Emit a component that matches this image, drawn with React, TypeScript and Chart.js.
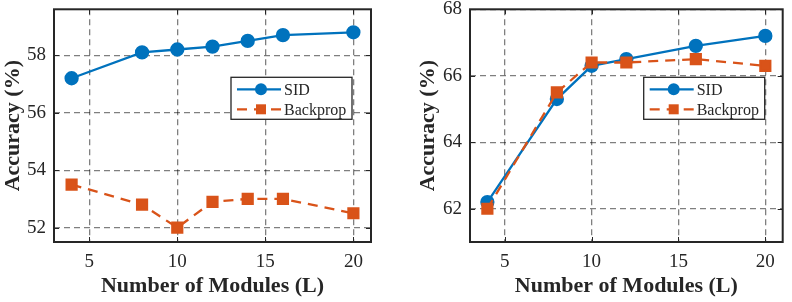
import React, { useEffect, useRef } from "react";
import { Chart, registerables } from "chart.js";

Chart.register(...registerables);

const FONT = '"Liberation Serif", "Times New Roman", serif';
const BLUE = "#0072BD";
const ORANGE = "#D95319";

const xTickValues = [5, 10, 15, 20];

const leftModules = [4, 8, 10, 12, 14, 16, 20];
const leftSID = [57.2, 58.1, 58.2, 58.3, 58.5, 58.7, 58.8];
const leftBackprop = [53.5, 52.8, 52.0, 52.9, 53.0, 53.0, 52.5];
const leftYTicks = [52, 54, 56, 58];

const rightModules = [4, 8, 10, 12, 16, 20];
const rightSID = [62.2, 65.3, 66.3, 66.5, 66.9, 67.2];
const rightBackprop = [62.0, 65.5, 66.4, 66.4, 66.5, 66.3];
const rightYTicks = [62, 64, 66, 68];

const seriesNames = ["SID", "Backprop"];
const xTitle = "Number of Modules (L)";
const yTitle = "Accuracy (%)";

type Cfg = {
  modules: number[];
  sid: number[];
  bp: number[];
  yTicks: number[];
  yMin: number;
  yMax: number;
  yWidth: number;
  rightPad: number;
  titlePad: number;
  legendRight: number;
};

const framePlugin = {
  id: "frameLegend",
  afterDraw(chart: any, _args: any, opts: any) {
    const ctx = chart.ctx;
    const a = chart.chartArea;
    ctx.save();
    ctx.strokeStyle = "#262626";
    ctx.lineWidth = 1;
    ctx.setLineDash([]);
    const xs = chart.scales.x;
    const ys = chart.scales.y;
    xs.ticks.forEach((t: any) => {
      const px = Math.round(xs.getPixelForValue(t.value)) + 0.5;
      ctx.beginPath();
      ctx.moveTo(px, a.bottom);
      ctx.lineTo(px, a.bottom - 5);
      ctx.moveTo(px, a.top);
      ctx.lineTo(px, a.top + 5);
      ctx.stroke();
    });
    ys.ticks.forEach((t: any) => {
      const py = Math.round(ys.getPixelForValue(t.value)) + 0.5;
      ctx.beginPath();
      ctx.moveTo(a.left, py);
      ctx.lineTo(a.left + 5, py);
      ctx.moveTo(a.right, py);
      ctx.lineTo(a.right - 5, py);
      ctx.stroke();
    });
    ctx.strokeStyle = "#262626";
    ctx.lineWidth = 2;
    ctx.strokeRect(a.left, a.top, a.right - a.left, a.bottom - a.top);

    const bw = 121;
    const bh = 42;
    const bx = a.right - opts.right - bw;
    const by = a.top + 68;
    ctx.fillStyle = "#ffffff";
    ctx.fillRect(bx, by, bw, bh);
    ctx.strokeStyle = "#262626";
    ctx.lineWidth = 1.3;
    ctx.strokeRect(bx, by, bw, bh);
    chart.data.datasets.forEach((ds: any, i: number) => {
      const yy = by + 12 + i * 20;
      ctx.strokeStyle = ds.borderColor;
      ctx.lineWidth = ds.borderWidth;
      ctx.setLineDash(ds.borderDash || []);
      ctx.beginPath();
      ctx.moveTo(bx + 6, yy);
      ctx.lineTo(bx + 50, yy);
      ctx.stroke();
      ctx.setLineDash([]);
      ctx.fillStyle = ds.pointBackgroundColor;
      const mx = bx + 30;
      if (ds.pointStyle === "rect") {
        const s = 5;
        ctx.fillRect(mx - s, yy - s, 2 * s, 2 * s);
      } else {
        ctx.beginPath();
        ctx.arc(mx, yy, 6, 0, Math.PI * 2);
        ctx.fill();
      }
      ctx.fillStyle = "#262626";
      ctx.font = `16px ${FONT}`;
      ctx.textBaseline = "middle";
      ctx.textAlign = "left";
      ctx.fillText(ds.label, bx + 53, yy + 1);
    });
    ctx.restore();
  },
};

function Panel({ cfg }: { cfg: Cfg }) {
  const ref = useRef<HTMLCanvasElement>(null);
  useEffect(() => {
    const c = new Chart(ref.current!, {
      type: "line",
      data: {
        datasets: [
          {
            label: seriesNames[0],
            data: cfg.modules.map((m, i) => ({ x: m, y: cfg.sid[i] })),
            borderColor: BLUE,
            backgroundColor: BLUE,
            pointBackgroundColor: BLUE,
            pointBorderColor: BLUE,
            borderWidth: 2.3,
            pointRadius: 6,
            pointStyle: "circle",
            order: 2,
          },
          {
            label: seriesNames[1],
            data: cfg.modules.map((m, i) => ({ x: m, y: cfg.bp[i] })),
            borderColor: ORANGE,
            backgroundColor: ORANGE,
            pointBackgroundColor: ORANGE,
            pointBorderColor: ORANGE,
            borderWidth: 2.3,
            borderDash: [10, 7],
            pointRadius: 7,
            pointStyle: "rect",
            order: 1,
          },
        ] as any,
      },
      options: {
        animation: false,
        responsive: false,
        maintainAspectRatio: false,
        layout: { padding: { top: 7, right: cfg.rightPad, left: 0, bottom: 0 } },
        plugins: {
          legend: { display: false },
          tooltip: { enabled: false },
          frameLegend: { right: cfg.legendRight },
        } as any,
        scales: {
          x: {
            type: "linear",
            min: 3,
            max: 21,
            afterBuildTicks: (axis: any) => {
              axis.ticks = xTickValues.map((v) => ({ value: v }));
            },
            afterFit: (s: any) => {
              s.height = 60;
              s.paddingLeft = 0;
              s.paddingRight = 0;
            },
            grid: { color: "rgba(0,0,0,0.5)", lineWidth: 1.3, drawTicks: false },
            border: { display: false, dash: [6, 4] },
            ticks: {
              padding: 9,
              color: "#262626",
              font: { family: FONT, size: 19 },
              autoSkip: false,
              maxRotation: 0,
            },
            title: {
              display: true,
              text: xTitle,
              color: "#262626",
              font: { family: FONT, size: 22, weight: "bold" },
              padding: { top: 0, bottom: 2 },
            },
          },
          y: {
            type: "linear",
            min: cfg.yMin,
            max: cfg.yMax,
            afterBuildTicks: (axis: any) => {
              axis.ticks = cfg.yTicks.map((v) => ({ value: v }));
            },
            afterFit: (s: any) => {
              s.width = cfg.yWidth;
              s.paddingTop = 0;
              s.paddingBottom = 0;
            },
            grid: { color: "rgba(0,0,0,0.5)", lineWidth: 1.3, drawTicks: false },
            border: { display: false, dash: [6, 4] },
            ticks: {
              padding: 8,
              color: "#262626",
              font: { family: FONT, size: 19 },
              autoSkip: false,
            },
            title: {
              display: true,
              text: yTitle,
              color: "#262626",
              font: { family: FONT, size: 22, weight: "bold" },
              padding: { top: cfg.titlePad, bottom: 0 },
            },
          },
        },
      } as any,
      plugins: [framePlugin],
    });
    return () => c.destroy();
  }, [cfg]);
  return <canvas ref={ref} width={396} height={302} style={{ display: "block" }} />;
}

const leftCfg: Cfg = {
  modules: leftModules,
  sid: leftSID,
  bp: leftBackprop,
  yTicks: leftYTicks,
  yMin: 51.5,
  yMax: 59.6,
  yWidth: 54,
  rightPad: 25,
  titlePad: 0,
  legendRight: 19,
};

const rightCfg: Cfg = {
  modules: rightModules,
  sid: rightSID,
  bp: rightBackprop,
  yTicks: rightYTicks,
  yMin: 61,
  yMax: 68,
  yWidth: 74,
  rightPad: 6,
  titlePad: 19,
  legendRight: 18,
};

export default function App() {
  return (
    <div
      style={{
        position: "absolute",
        left: 0,
        top: 0,
        width: 792,
        height: 302,
        display: "flex",
        background: "#fff",
      }}
    >
      <Panel cfg={leftCfg} />
      <Panel cfg={rightCfg} />
    </div>
  );
}
